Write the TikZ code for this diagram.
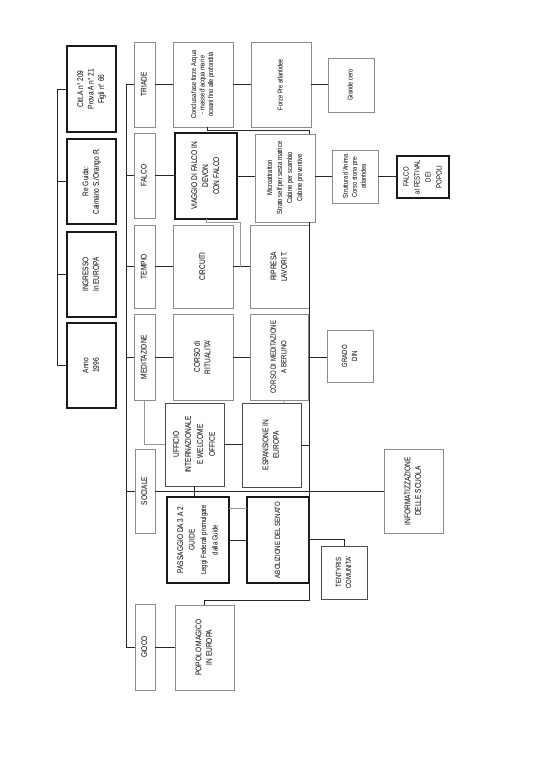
\documentclass[tikz,border=0pt]{standalone}
\usepackage{fontspec}
\setmainfont[FakeStretch=0.8]{Liberation Sans}
\newcommand\rt[1]{\rotatebox{90}{\begin{tabular}{@{}c@{}}#1\end{tabular}}}
\newcommand\fbig{\fontsize{8.2}{10.5}\selectfont}
\newcommand\fsml{\fontsize{7.1}{8.5}\selectfont}
\begin{document}
\begin{tikzpicture}[x=1pt,y=-1pt,
  every node/.style={inner sep=0pt, outer sep=0pt, text=black, font=\fbig},
  thickb/.style={draw=black!90, line width=1.5pt},
  medb/.style={draw=black!70, line width=0.9pt},
  thinb/.style={draw=black!45, line width=0.6pt},
  conn/.style={draw=black!85, line width=0.9pt},
  gconn/.style={draw=black!40, line width=0.6pt},
  sz/.style 2 args={minimum width=#1pt, minimum height=#2pt}]
\useasboundingbox (0,0) rectangle (535,770);

% top column
\node[thickb, sz={49}{86}] (citt) at (91.5,89) {\rt{Citt.A n° 209\\Prova A n° 21\\Figli n° 66}};
\node[thickb, sz={49}{85}] (reguida) at (91.5,181.5) {\rt{Re Guida:\\Caimano S./Orango R.}};
\node[thickb, sz={49}{85}] (ingresso) at (91.5,274.5) {\rt{INGRESSO\\In EUROPA}};
\node[thickb, sz={49}{85}] (anno) at (91.5,365.5) {\rt{Anno\\1996}};

% categories
\node[thinb, sz={21}{85}] (triade) at (144.5,84.5) {\rt{TRIADE}};
\node[thinb, sz={21}{85}] (falco) at (144.5,175.5) {\rt{FALCO}};
\node[thinb, sz={21}{83}] (tempio) at (144.5,266.5) {\rt{TEMPIO}};
\node[thinb, sz={21}{86}] (meditazione) at (144.5,357) {\rt{MEDITAZIONE}};
\node[thinb, sz={20}{84}] (sociale) at (145,491) {\rt{SOCIALE}};
\node[thinb, sz={20}{86}] (gioco) at (145,647) {\rt{GIOCO}};

% third column
\node[thinb, sz={60}{85}, font=\fsml] (conclusa) at (203,84.5) {\rt{Conclusa fase forze Acqua\\- masse d'acqua mari e\\oceani fino alle profondità}};
\node[thickb, line width=1.3pt, sz={62}{86}, font=\fontsize{8.2}{11}\selectfont] (viaggio) at (206,176) {\rt{VIAGGIO DI FALCO IN\\DEVON\\CON FALCO}};
\node[thinb, sz={60}{83}] (circuiti) at (203,266.5) {\rt{CIRCUITI}};
\node[thinb, sz={60}{86}] (ritualita) at (203,357) {\rt{CORSO di\\RITUALITA'}};
\node[medb, sz={59}{83}, font=\fontsize{8.2}{12}\selectfont] (ufficio) at (194.5,444.5) {\rt{UFFICIO\\INTERNAZIONALE\\E WELCOME\\OFFICE}};
\node[thickb, sz={62}{86}, font=\fontsize{8.2}{11.5}\selectfont] (passaggio) at (198,540) {\rt{PASSAGGIO DA 3 A 2\\GUIDE\\{\fontsize{7.5}{10}\selectfont Leggi Federali promulgate}\\{\fontsize{7.5}{10}\selectfont dalla Guide}}};
\node[thinb, sz={59}{85}] (popolo) at (204.5,647.5) {\rt{POPOLO MAGICO\\IN EUROPA}};

% fourth column
\node[thinb, sz={60}{85}, font=\fsml] (forze) at (281,84.5) {\rt{Forze Pre atlantidee}};
\node[thinb, sz={60}{88}, font=\fontsize{7.3}{10}\selectfont] (micro) at (285,178) {\rt{Microattrattori\\Strato self per sesta matrice\\Cabine per scambio\\Cabine preventive}};
\node[thinb, sz={59}{83}] (ripresa) at (279.5,266.5) {\rt{RIPRESA\\LAVORI T.}};
\node[thinb, sz={58}{86}, font=\fontsize{7.6}{10.5}\selectfont] (berlino) at (279,357) {\rt{CORSO DI MEDITAZIONE\\A BERLINO}};
\node[medb, sz={59}{84}] (espansione) at (271.5,445) {\rt{ESPANSIONE IN\\EUROPA}};
\node[thickb, sz={62}{86}, font=\fontsize{7.6}{10.5}\selectfont] (abolizione) at (278,540) {\rt{ABOLIZIONE DEL SENATO}};

% fifth column
\node[thinb, sz={46}{54}, font=\fsml] (grande) at (351,85) {\rt{Grande cero}};
\node[thinb, sz={46}{53}, font=\fontsize{7}{9}\selectfont] (struttura) at (355,176.5) {\rt{Struttura d'Anima\\Corso storia pre-\\atlantidea}};
\node[thinb, sz={46}{52}, font=\fontsize{7.5}{10}\selectfont] (grado) at (350,356) {\rt{GRADO\\DIN}};
\node[medb, sz={46}{53}, font=\fontsize{7.5}{10}\selectfont] (tentyris) at (344,572.5) {\rt{TENTYRIS\\COMUNITA'}};
\node[thinb, sz={59}{84}] (informat) at (413.5,491) {\rt{INFORMATIZZAZIONE\\DELLE SCUOLA}};
\node[thickb, line width=1.3pt, sz={52}{42}, font=\fontsize{7.5}{11}\selectfont] (festival) at (423,177) {\rt{FALCO\\al FESTIVAL\\DEI\\POPOLI}};

\coordinate (sp1) at (57,0);
\coordinate (sp2) at (126,0);
\coordinate (vx) at (309,0);

% top spine
\draw[conn] (citt.west) -- (citt.west -| sp1) -- (anno.west -| sp1) -- (anno.west);
\draw[conn] (reguida.west -| sp1) -- (reguida.west);
\draw[conn] (ingresso.west -| sp1) -- (ingresso.west);

% category spine
\draw[conn] (triade.west) -- (triade.west -| sp2) -- (gioco.west -| sp2) -- (gioco.west);
\foreach \n in {falco,tempio,meditazione,sociale}
  \draw[conn] (\n.west -| sp2) -- (\n.west);

% category -> third
\draw[conn] (triade.east) -- (triade.east -| conclusa.west);
\draw[conn] (falco.east) -- (falco.east -| viaggio.west);
\draw[conn] (tempio.east) -- (tempio.east -| circuiti.west);
\draw[conn] (meditazione.east) -- (meditazione.east -| ritualita.west);
\draw[conn] (gioco.east) -- (gioco.east -| popolo.west);
\draw[conn] (sociale.east) -- (informat.west);
\draw[conn] (ufficio.south) -- (ufficio.south |- passaggio.north);
\draw[gconn] (meditazione.south) |- (ufficio.west);

% third -> fourth
\draw[conn] (conclusa.east) -- (conclusa.east -| forze.west);
\draw[conn] (viaggio.east) -- (viaggio.east -| micro.west);
\draw[conn] (circuiti.east) -- (circuiti.east -| ripresa.west);
\draw[conn] (ritualita.east) -- (ritualita.east -| berlino.west);
\draw[conn] (ufficio.east) -- (ufficio.east -| espansione.west);
\draw[conn] (passaggio.east) -- (passaggio.east -| abolizione.west);
\draw[gconn] ([yshift=32pt]passaggio.east) -- ([yshift=32pt]passaggio.east -| abolizione.west);

% fourth -> fifth
\draw[conn] (forze.east) -- (forze.east -| grande.west);
\draw[conn] (micro.east |- struttura.west) -- (struttura.west);
\draw[conn] (struttura.east) -- (struttura.east -| festival.west);
\draw[conn] (berlino.east) -- (berlino.east -| grado.west);
\draw[conn] ([yshift=1pt]abolizione.east) -| (tentyris.north);

% extra links
\draw[conn] ([xshift=4pt]conclusa.south) -- ++(0,3) -| (micro.north -| vx);
\draw[gconn] (viaggio.south) -- ++(0,3) -| (240,266.5);
\draw[conn] (micro.south -| vx) -- (309,600) -| (popolo.north);
\draw[conn] (espansione.east) -- (espansione.east -| vx);
\draw[gconn] ([xshift=6pt]berlino.south) -- ([xshift=12pt]espansione.north);
\end{tikzpicture}
\end{document}
